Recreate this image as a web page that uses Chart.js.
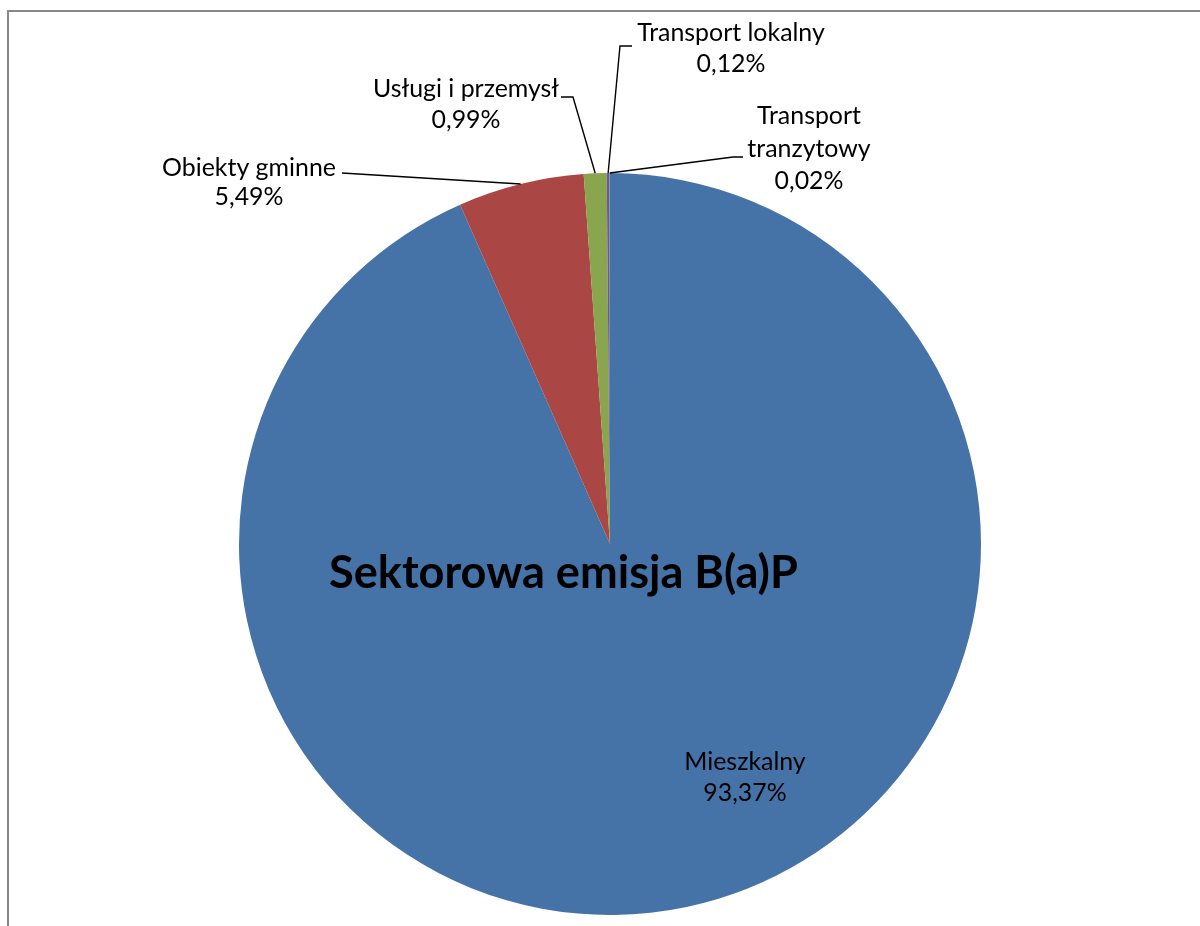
<!DOCTYPE html>
<html>
<head>
<meta charset="utf-8">
<script src="https://cdn.jsdelivr.net/npm/chart.js@4/dist/chart.umd.min.js"></script>
<style>
  html, body { margin: 0; padding: 0; background: #fff; overflow: hidden; }
  #wrap { position: relative; width: 1200px; height: 926px; }
  #frame { position: absolute; left: 7px; top: 10px; width: 1300px; height: 1000px; border: 2px solid #888; }
  canvas { position: absolute; left: 0; top: 0; }
</style>
</head>
<body>
<div id="wrap">
  <div id="frame"></div>
  <canvas id="pie" width="1200" height="926"></canvas>
</div>
<script>
// sectors, shares in %
const sectors = ['Mieszkalny', 'Obiekty gminne', 'Usługi i przemysł', 'Transport lokalny', 'Transport tranzytowy'];
const shares = [93.37, 5.49, 0.99, 0.12, 0.02];
const shareLabels = ['93,37%', '5,49%', '0,99%', '0,12%', '0,02%'];
const sliceColors = ['#4572A7', '#AA4643', '#89A54E', '#71588F', '#4198AF'];
const chartTitle = 'Sektorowa emisja B(a)P';

// where each data label sits (text lines, centre x, baselines, leader elbow + end)
const labelLayout = [
  { lines: ['Mieszkalny'], cx: 745, y: [770, 801], leader: null },
  { lines: ['Obiekty gminne'], cx: 249, y: [176, 205], leader: [[342, 173]] },
  { lines: ['Usługi i przemysł'], cx: 466, y: [97, 128], leader: [[573, 97], [561, 97]] },
  { lines: ['Transport lokalny'], cx: 731, y: [41, 72], leader: [[620, 46], [632, 46]] },
  { lines: ['Transport', 'tranzytowy'], cx: 809, y: [124, 157, 189], leader: [[733, 157], [743, 157]] }
];

const FONT = 'Lato, "Open Sans", sans-serif';

function fitSize(ctx, text, weight, targetW) {
  ctx.font = weight + ' 100px ' + FONT;
  return 100 * targetW / ctx.measureText(text).width;
}

const labelsPlugin = {
  id: 'pieLabels',
  afterDraw(chart) {
    const ctx = chart.ctx;
    const meta = chart.getDatasetMeta(0);
    ctx.save();
    ctx.fillStyle = '#000';
    ctx.strokeStyle = '#000';
    ctx.lineWidth = 1.4;

    const size = fitSize(ctx, 'Transport lokalny', 'normal', 188);
    ctx.font = 'normal ' + size.toFixed(1) + 'px ' + FONT;
    ctx.textAlign = 'center';
    ctx.textBaseline = 'alphabetic';

    meta.data.forEach((arc, i) => {
      const p = arc.getProps(['x', 'y', 'startAngle', 'endAngle', 'outerRadius'], true);
      const mid = (p.startAngle + p.endAngle) / 2;
      const ax = p.x + Math.cos(mid) * p.outerRadius;
      const ay = p.y + Math.sin(mid) * p.outerRadius;
      const lay = labelLayout[i];
      if (lay.leader) {
        ctx.beginPath();
        ctx.moveTo(ax, ay);
        lay.leader.forEach(pt => ctx.lineTo(pt[0], pt[1]));
        ctx.stroke();
      }
      const lines = lay.lines.concat([shareLabels[i]]);
      lines.forEach((t, k) => ctx.fillText(t, lay.cx, lay.y[k]));
    });

    // title over the pie
    const tsize = fitSize(ctx, chartTitle, 'bold', 469);
    ctx.font = 'bold ' + tsize.toFixed(1) + 'px ' + FONT;
    ctx.fillText(chartTitle, 563.5, 588);
    ctx.restore();
  }
};

new Chart(document.getElementById('pie'), {
  type: 'pie',
  data: {
    labels: sectors,
    datasets: [{
      data: shares,
      backgroundColor: sliceColors,
      borderWidth: 0
    }]
  },
  options: {
    responsive: false,
    animation: false,
    layout: { padding: { left: 239, right: 219, top: 173, bottom: 11 } },
    plugins: {
      legend: { display: false },
      tooltip: { enabled: false },
      title: { display: false }
    }
  },
  plugins: [labelsPlugin]
});
</script>
</body>
</html>
